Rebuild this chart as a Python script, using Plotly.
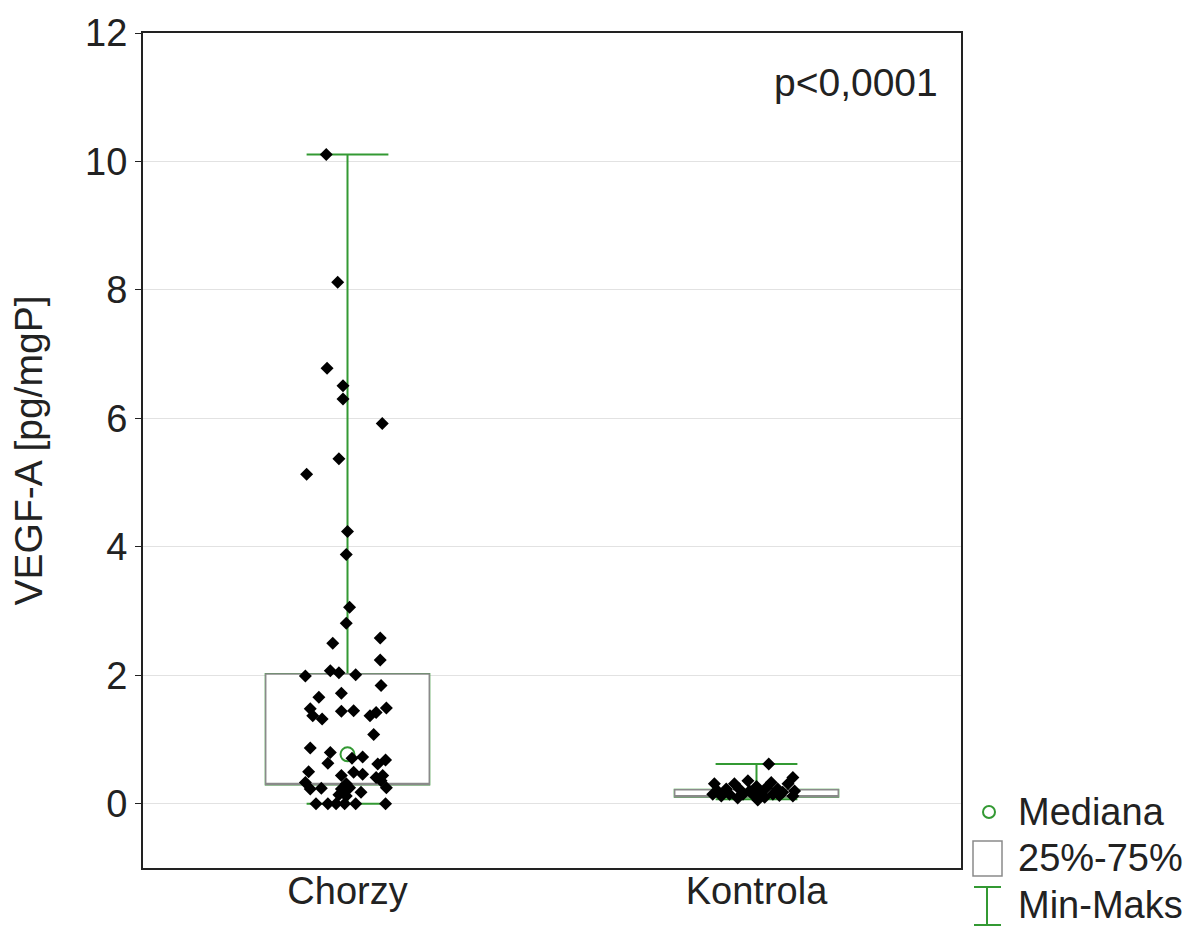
import plotly.graph_objects as go

# ---- data ----
categories = ["Chorzy", "Kontrola"]

chorzy_values = [10.11, 8.12, 6.78, 6.51, 6.30, 5.92, 5.37, 5.13, 4.24, 3.88,
                 3.06, 2.81, 2.58, 2.50, 2.24, 2.07, 2.04, 1.99, 2.01, 1.84,
                 1.72, 1.66, 1.48, 1.37, 1.32, 1.44, 1.45, 1.37, 1.42, 1.49,
                 1.08, 0.87, 0.80, 0.63, 0.71, 0.73, 0.62, 0.68, 0.50, 0.44,
                 0.49, 0.46, 0.41, 0.44, 0.33, 0.31, 0.36, 0.23, 0.24, 0.23,
                 0.25, 0.18, 0.25, 0.14, 0.12, 0.00, 0.00, 0.00, 0.00, 0.00,
                 0.00]
chorzy_jitter = [-0.052, -0.024, -0.050, -0.011, -0.011, 0.085, -0.021, -0.100, 0.000, -0.003,
                 0.005, -0.003, 0.080, -0.036, 0.080, -0.042, -0.021, -0.103, 0.020, 0.082,
                 -0.015, -0.070, -0.091, -0.085, -0.062, -0.015, 0.015, 0.055, 0.070, 0.095,
                 0.064, -0.091, -0.042, -0.048, 0.011, 0.037, 0.074, 0.093, -0.095, -0.015,
                 0.015, 0.037, 0.070, 0.086, -0.103, -0.003, 0.082, -0.091, -0.064, -0.015,
                 0.005, 0.033, 0.095, -0.021, -0.003, -0.077, -0.048, -0.028, -0.007, 0.020,
                 0.093]

kontrola_values = [0.62, 0.31, 0.20, 0.12, 0.23, 0.15, 0.31, 0.23, 0.36, 0.20,
                   0.12, 0.06, 0.18, 0.25, 0.33, 0.15, 0.23, 0.18, 0.31, 0.41,
                   0.20, 0.12, 0.15, 0.15, 0.10, 0.13, 0.27, 0.09]
kontrola_jitter = [0.030, -0.103, -0.095, -0.086, -0.074, -0.066, -0.054, -0.042, -0.021, -0.017,
                   -0.005, 0.003, 0.011, 0.024, 0.036, 0.040, 0.052, 0.064, 0.077, 0.089,
                   0.093, 0.089, -0.107, -0.033, 0.020, 0.056, 0.000, -0.046]

stat_min = [0.00, 0.07]
stat_q1 = [0.30, 0.11]
stat_median = [0.77, 0.16]
stat_q3 = [2.02, 0.22]
stat_max = [10.11, 0.62]

y_ticks = [0, 2, 4, 6, 8, 10, 12]
p_text = "p<0,0001"
legend_labels = ["Mediana", "25%-75%", "Min-Maks"]

# ---- style ----
GREEN = "#339933"
GRAY = "#8a8a8a"
FONT = "Liberation Sans, Arial, sans-serif"
FS = 38

pos = list(range(len(categories)))

fig = go.Figure()

# whiskers (green) via box trace
fig.add_trace(go.Box(
    x=pos, q1=stat_q1, median=stat_q1, q3=stat_q3,
    lowerfence=stat_min, upperfence=stat_max,
    width=0.4, whiskerwidth=0.5,
    line=dict(color=GREEN, width=2), fillcolor="white",
    boxpoints=False, showlegend=False, hoverinfo="skip",
))
# 25%-75% box (gray outline)
fig.add_trace(go.Box(
    x=pos, q1=stat_q1, median=stat_q1, q3=stat_q3,
    lowerfence=stat_q1, upperfence=stat_q3,
    width=0.4, whiskerwidth=0,
    line=dict(color=GRAY, width=1.5), fillcolor="white",
    boxpoints=False, showlegend=False, hoverinfo="skip",
))
# median markers
fig.add_trace(go.Scatter(
    x=pos, y=stat_median, mode="markers",
    marker=dict(symbol="circle-open", size=14, color=GREEN, line=dict(width=2)),
    showlegend=False,
))
# data points
fig.add_trace(go.Scatter(
    x=[pos[0] + j for j in chorzy_jitter], y=chorzy_values, mode="markers",
    marker=dict(symbol="diamond", size=10, color="black"),
    showlegend=False,
))
fig.add_trace(go.Scatter(
    x=[pos[1] + j for j in kontrola_jitter], y=kontrola_values, mode="markers",
    marker=dict(symbol="diamond", size=10, color="black"),
    showlegend=False,
))

# ---- layout ----
L, R, T, B = 143, 961, 33, 868
W, H = 1194, 936


def px(x):
    return (x - L) / (R - L)


def py(y):
    return (B - y) / (B - T)


shapes = [
    # legend: median circle
    dict(type="circle", xref="paper", yref="paper",
         x0=px(983), x1=px(995), y0=py(818), y1=py(806),
         line=dict(color=GREEN, width=2)),
    # legend: box square
    dict(type="rect", xref="paper", yref="paper",
         x0=px(973), x1=px(1002), y0=py(876), y1=py(841),
         line=dict(color=GRAY, width=1.5), fillcolor="white"),
    # legend: min-max I beam
    dict(type="line", xref="paper", yref="paper",
         x0=px(987), x1=px(987), y0=py(925), y1=py(887),
         line=dict(color=GREEN, width=2)),
    dict(type="line", xref="paper", yref="paper",
         x0=px(974), x1=px(1001), y0=py(887), y1=py(887),
         line=dict(color=GREEN, width=2)),
    dict(type="line", xref="paper", yref="paper",
         x0=px(974), x1=px(1001), y0=py(925), y1=py(925),
         line=dict(color=GREEN, width=2)),
]

annotations = [
    dict(text=p_text, xref="paper", yref="paper", x=px(940), y=py(82),
         xanchor="right", yanchor="middle", showarrow=False,
         font=dict(family=FONT, size=FS + 1, color="#222")),
]
for lbl, yc in zip(legend_labels, [812, 858, 905]):
    annotations.append(dict(text=lbl, xref="paper", yref="paper", x=px(1016), y=py(yc),
                            xanchor="left", yanchor="middle", showarrow=False,
                            font=dict(family=FONT, size=FS, color="#222")))

fig.update_layout(
    width=W, height=H,
    margin=dict(l=L, r=W - R, t=T, b=H - B, pad=0),
    paper_bgcolor="white", plot_bgcolor="white",
    boxmode="overlay",
    font=dict(family=FONT, size=FS, color="#222"),
    shapes=shapes, annotations=annotations,
    showlegend=False,
)
fig.update_xaxes(
    range=[-0.5, 1.5], tickvals=pos, ticktext=categories,
    showgrid=False, zeroline=False,
    showline=True, linecolor="#222", linewidth=2, mirror=True,
    ticks="", ticklabelstandoff=-12,
    tickfont=dict(family=FONT, size=FS, color="#222"),
)
fig.update_yaxes(
    range=[-1, 12], tickvals=y_ticks,
    showgrid=True, gridcolor="#e2e2e2", gridwidth=1, zeroline=False,
    showline=True, linecolor="#222", linewidth=2, mirror=True,
    ticks="outside", ticklen=6, tickcolor="#222",
    tickfont=dict(family=FONT, size=FS, color="#222"),
    title=dict(text="VEGF-A [pg/mgP]", font=dict(family=FONT, size=FS + 1, color="#222"), standoff=30),
)

fig.write_html("out.html")
